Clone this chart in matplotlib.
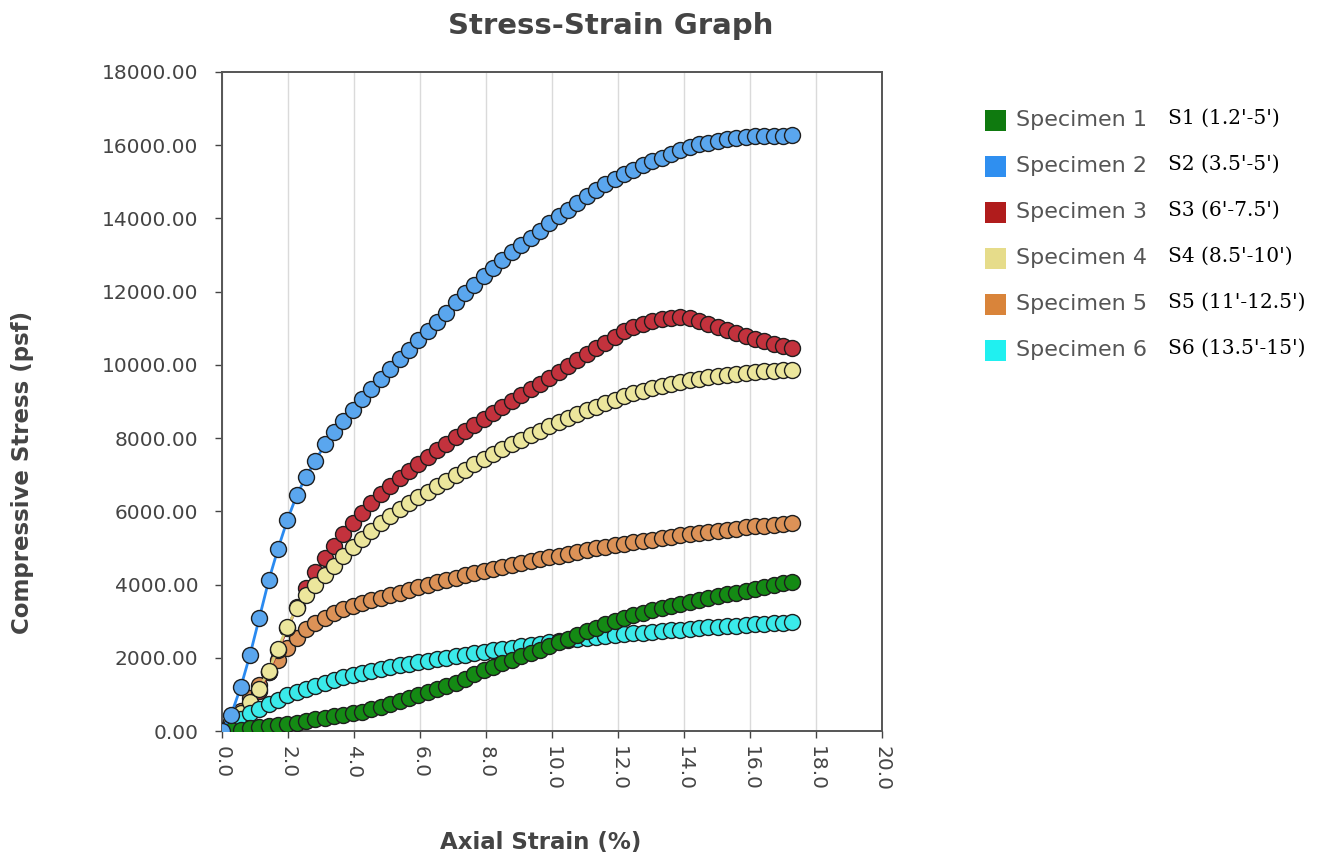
import matplotlib
matplotlib.use("Agg")
import matplotlib.pyplot as plt
from matplotlib.patches import Rectangle
from matplotlib.ticker import FormatStrFormatter, MultipleLocator

# axial strain readings (%), shared by all specimens
strain = [0.00, 0.28, 0.57, 0.85, 1.13, 1.42, 1.70, 1.98, 2.27, 2.55,
          2.83, 3.12, 3.40, 3.68, 3.97, 4.25, 4.53, 4.82, 5.10, 5.38,
          5.67, 5.95, 6.23, 6.52, 6.80, 7.08, 7.37, 7.65, 7.93, 8.22,
          8.50, 8.78, 9.07, 9.35, 9.63, 9.92, 10.20, 10.48, 10.77, 11.05,
          11.33, 11.62, 11.90, 12.18, 12.47, 12.75, 13.03, 13.32, 13.60, 13.88,
          14.17, 14.45, 14.73, 15.02, 15.30, 15.58, 15.87, 16.15, 16.43, 16.72,
          17.00, 17.28]

# compressive stress (psf)
s1 = [0, 20, 40, 70, 100, 130, 160, 190, 230, 280,
      320, 360, 400, 440, 480, 530, 590, 660, 740, 820,
      900, 980, 1060, 1140, 1230, 1320, 1430, 1550, 1660, 1760,
      1860, 1950, 2040, 2130, 2220, 2320, 2420, 2520, 2620, 2720,
      2820, 2910, 3000, 3080, 3160, 3230, 3300, 3360, 3420, 3480,
      3530, 3580, 3630, 3680, 3730, 3780, 3830, 3880, 3930, 3980,
      4030, 4080]
s2 = [0, 450, 1200, 2080, 3080, 4120, 4980, 5760, 6450, 6950,
      7380, 7830, 8180, 8480, 8770, 9060, 9340, 9610, 9880, 10150,
      10420, 10680, 10930, 11180, 11430, 11720, 11960, 12190, 12420, 12650,
      12860, 13070, 13270, 13470, 13670, 13870, 14060, 14240, 14420, 14600,
      14780, 14930, 15070, 15200, 15330, 15450, 15560, 15660, 15760, 15860,
      15950, 16020, 16070, 16120, 16170, 16200, 16220, 16240, 16250, 16260,
      16260, 16270]
s3 = [0, 200, 450, 750, 1100, 1600, 2200, 2800, 3380, 3900,
      4350, 4720, 5050, 5380, 5680, 5960, 6220, 6460, 6690, 6910,
      7110, 7300, 7490, 7670, 7850, 8020, 8190, 8360, 8530, 8690,
      8850, 9010, 9170, 9330, 9490, 9650, 9810, 9970, 10130, 10290,
      10450, 10610, 10770, 10920, 11040, 11130, 11200, 11250, 11290, 11300,
      11280, 11210, 11120, 11030, 10950, 10870, 10800, 10720, 10640, 10570,
      10510, 10460]
s4 = [0, 250, 500, 800, 1150, 1650, 2250, 2850, 3350, 3720,
      4000, 4260, 4520, 4780, 5020, 5250, 5470, 5680, 5880, 6070,
      6230, 6380, 6530, 6690, 6840, 6990, 7140, 7290, 7430, 7570,
      7710, 7840, 7960, 8080, 8200, 8320, 8430, 8540, 8650, 8760,
      8860, 8960, 9050, 9140, 9220, 9290, 9360, 9420, 9480, 9530,
      9580, 9620, 9660, 9700, 9730, 9760, 9790, 9810, 9830, 9845,
      9855, 9870]
s5 = [0, 250, 550, 900, 1250, 1600, 1950, 2270, 2550, 2780,
      2960, 3100, 3220, 3320, 3410, 3490, 3570, 3640, 3710, 3780,
      3850, 3920, 3990, 4060, 4130, 4190, 4250, 4310, 4370, 4430,
      4490, 4540, 4590, 4640, 4690, 4740, 4790, 4840, 4890, 4940,
      4990, 5030, 5070, 5110, 5150, 5190, 5230, 5270, 5310, 5340,
      5370, 5410, 5440, 5470, 5500, 5530, 5560, 5590, 5610, 5630,
      5660, 5680]
s6 = [0, 150, 330, 480, 610, 740, 860, 970, 1070, 1160,
      1240, 1320, 1400, 1470, 1530, 1590, 1640, 1690, 1740, 1790,
      1840, 1880, 1920, 1960, 2000, 2040, 2080, 2120, 2160, 2200,
      2240, 2280, 2320, 2350, 2390, 2420, 2450, 2480, 2510, 2540,
      2570, 2600, 2630, 2650, 2670, 2690, 2710, 2730, 2750, 2770,
      2790, 2810, 2830, 2850, 2870, 2880, 2900, 2920, 2930, 2950,
      2960, 2980]

names = ["Specimen 1", "Specimen 2", "Specimen 3", "Specimen 4", "Specimen 5", "Specimen 6"]
depths = ["S1 (1.2'-5')", "S2 (3.5'-5')", "S3 (6'-7.5')", "S4 (8.5'-10')", "S5 (11'-12.5')", "S6 (13.5'-15')"]
series = [s1, s2, s3, s4, s5, s6]

faces = ["#148a14", "#5aa6ee", "#c3323d", "#ece69c", "#dc9257", "#3aeaea"]
lines = ["#0c6e0c", "#2a8af0", "#a8202a", "#d8cf78", "#c8783a", "#20cccc"]
swatch = ["#0f7a0f", "#2f8ff0", "#b01c1c", "#e6dc8a", "#d9843a", "#20f0f0"]
stack = [9, 10, 6, 7, 5, 8]  # drawing order of the series

fig = plt.figure(figsize=(13.18, 8.59), dpi=100)
ax = fig.add_axes([0.1684, 0.149, 0.5008, 0.7672])

for i in range(6):
    ax.plot(strain, series[i], color=lines[i], lw=2, marker="o", ms=11.5,
            mfc=faces[i], mec="#1e1e1e", mew=1.0, zorder=stack[i])

ax.set_xlim(0, 20)
ax.set_ylim(0, 18000)
ax.xaxis.set_major_locator(MultipleLocator(2))
ax.yaxis.set_major_locator(MultipleLocator(2000))
ax.xaxis.set_major_formatter(FormatStrFormatter("%.1f"))
ax.yaxis.set_major_formatter(FormatStrFormatter("%.2f"))
ax.grid(axis="x", color="#dadada", lw=1)
ax.set_axisbelow(True)
for sp in ax.spines.values():
    sp.set_color("#555555")
    sp.set_linewidth(1.4)
ax.tick_params(colors="#444444", labelsize=14.5, length=5, width=1, pad=6)
ax.tick_params(axis="y", pad=12)
ax.tick_params(axis="x", labelrotation=-90)
for lbl in ax.get_xticklabels():
    lbl.set_verticalalignment("top")

fig.text(0.4636, 0.970, "Stress-Strain Graph", ha="center", va="center",
         fontsize=21, fontweight="bold", color="#444444")
fig.text(0.017, 0.4505, "Compressive Stress (psf)", rotation=90, ha="center", va="center",
         fontsize=16.5, fontweight="bold", color="#444444")
fig.text(0.4105, 0.019, "Axial Strain (%)", ha="center", va="center",
         fontsize=16.5, fontweight="bold", color="#444444")

# legend: colour swatch, series name, sampling depth
row_y = [120, 166, 212, 258, 304, 350]
for i in range(6):
    yf = 1 - row_y[i] / 859
    fig.add_artist(Rectangle((985 / 1318, yf - 10.5 / 859), 21 / 1318, 21 / 859,
                             transform=fig.transFigure, facecolor=swatch[i],
                             edgecolor="none"))
    fig.text(1016 / 1318, yf, names[i], ha="left", va="center",
             fontsize=16, color="#555555")
    fig.text(1168 / 1318, yf + 2 / 859, depths[i], ha="left", va="center",
             fontsize=14.5, family="DejaVu Serif", color="black")

fig.savefig("out.png", dpi=100, facecolor="white")
